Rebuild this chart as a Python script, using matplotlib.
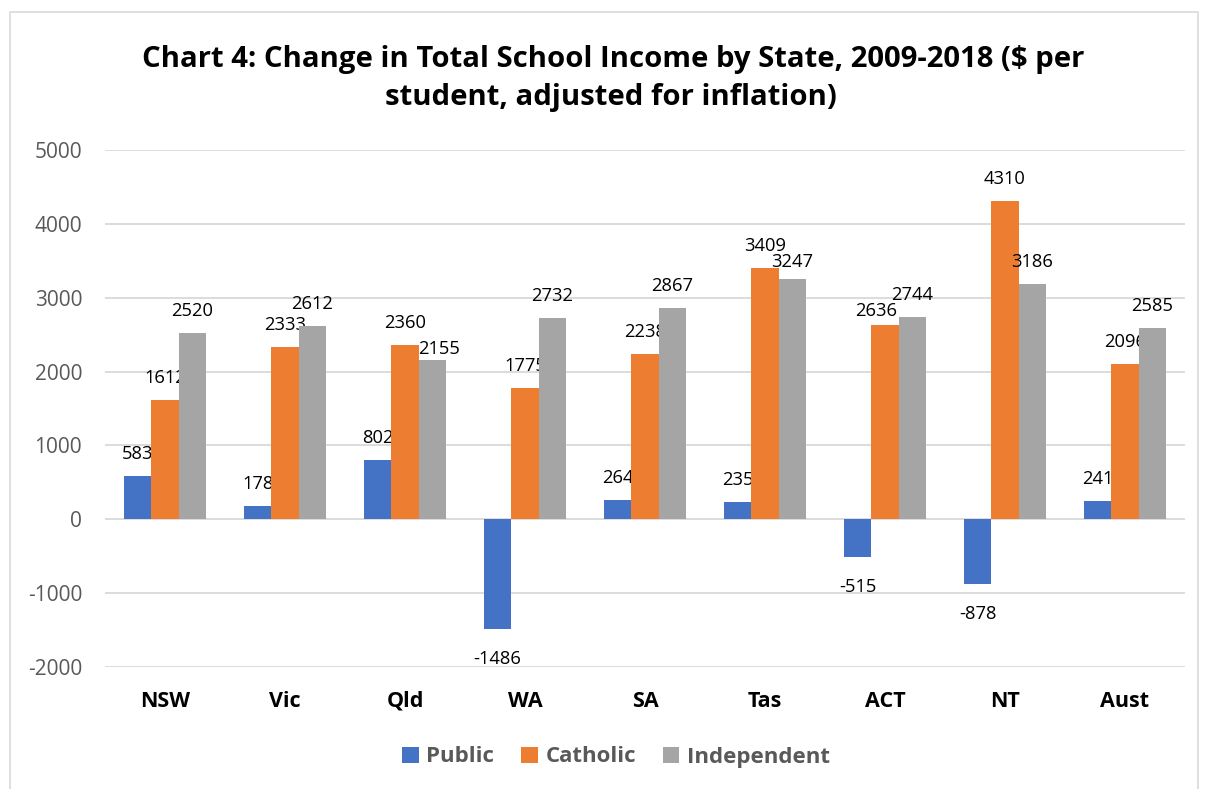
import numpy as np
import matplotlib
matplotlib.use("Agg")
import matplotlib.pyplot as plt
from matplotlib import patches

states = ["NSW", "Vic", "Qld", "WA", "SA", "Tas", "ACT", "NT", "Aust"]
public = [583, 178, 802, -1486, 264, 235, -515, -878, 241]
catholic = [1612, 2333, 2360, 1775, 2238, 3409, 2636, 4310, 2096]
independent = [2520, 2612, 2155, 2732, 2867, 3247, 2744, 3186, 2585]
y_ticks = [-2000, -1000, 0, 1000, 2000, 3000, 4000, 5000]

series = [("Public", public, "#4472C4"),
          ("Catholic", catholic, "#ED7D31"),
          ("Independent", independent, "#A5A5A5")]

# labels that the original chart nudged to avoid overlaps (pixels)
nudges = {("Independent", "Qld"): (7, -11),
          ("Independent", "Tas"): (0, -5),
          ("Catholic", "ACT"): (-9, -8)}

plt.rcParams["font.family"] = ["Open Sans", "DejaVu Sans"]

W, H = 1206, 789
fig = plt.figure(figsize=(W / 100, H / 100), dpi=100)
ax = fig.add_axes([105 / W, 1 - 667 / H, 1080 / W, 517 / H])

# chart border
fig.patches.append(patches.Rectangle((10 / W, -0.02), 1188 / W, 1 - 12 / H + 0.02,
                                     transform=fig.transFigure, fill=False,
                                     edgecolor="#D9D9D9", linewidth=1.2))

x = np.arange(len(states))
width = 0.228
for i, (name, vals, color) in enumerate(series):
    pos = x + (i - 1) * width
    ax.bar(pos, vals, width, color=color, label=name, zorder=3)
    for state, px, v in zip(states, pos, vals):
        dx, dy = nudges.get((name, state), (0, 0))
        off = 17 if v >= 0 else -35
        ax.annotate(str(v), (px, v), xytext=(dx, off + dy), textcoords="offset pixels",
                    ha="center", va="baseline", fontsize=13.2, color="black")

ax.set_xlim(-0.5, len(states) - 0.5)
ax.set_ylim(-2000, 5000)
ax.set_yticks(y_ticks)
ax.set_yticklabels([str(t) for t in y_ticks], fontsize=15, color="#595959")
ax.set_xticks(x)
ax.set_xticklabels(states, fontsize=15.5, fontweight="bold", color="black")
ax.tick_params(axis="y", length=0, pad=16.5)
ax.tick_params(axis="x", length=0, pad=17)
ax.grid(axis="y", color="#D9D9D9", linewidth=1.3, zorder=0)
for s in ax.spines.values():
    s.set_visible(False)

fig.text(613 / W, 1 - 67 / H, "Chart 4: Change in Total School Income by State, 2009-2018 ($ per",
         ha="center", va="baseline", fontsize=21.1, fontweight="bold")
fig.text(611 / W, 1 - 105 / H, "student, adjusted for inflation)",
         ha="center", va="baseline", fontsize=21.1, fontweight="bold")

leg = fig.legend(loc="center", bbox_to_anchor=(616 / W, 1 - 757 / H), ncol=3,
                 frameon=False, handlelength=0.75, handleheight=0.75, handletextpad=0.35,
                 columnspacing=1.2, prop={"size": 16, "weight": "bold"})
for t in leg.get_texts():
    t.set_color("#595959")

fig.savefig("out.png", dpi=100)
